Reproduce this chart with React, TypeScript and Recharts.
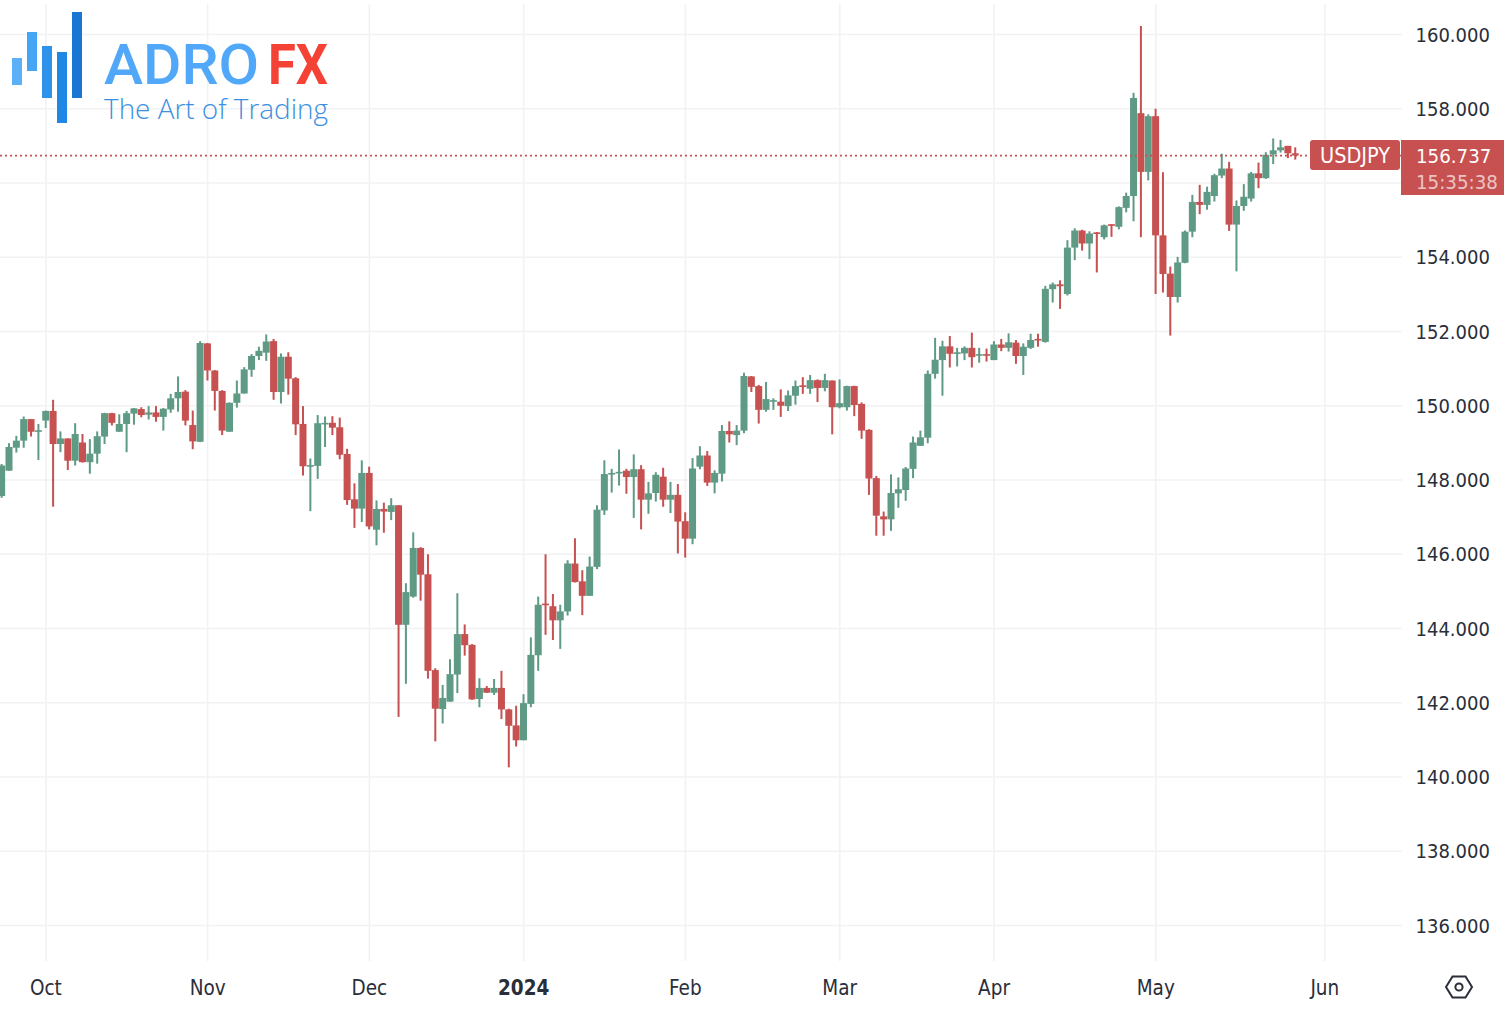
import { Bar, CartesianGrid, ComposedChart, ReferenceLine, XAxis, YAxis } from "recharts";

const FONT = "'DejaVu Sans', sans-serif";
const GREEN = "#5f9a85";
const RED = "#c75050";
const GRID = "#f2f2f4";
const TEXT = "#2a2e39";

// daily USDJPY candles
const opens = [
  147.57, 148.25, 148.87, 149.06, 149.64, 149.32, 149.6, 149.86, 148.97, 149.12,
  148.52, 149.01, 148.48, 148.71, 149.17, 149.8, 149.3, 149.51, 149.79, 149.91,
  149.76, 149.82, 149.7, 149.9, 150.2, 150.38, 149.48, 149.03, 151.68, 150.95,
  150.4, 149.3, 150.08, 150.33, 150.97, 151.34, 151.43, 151.74, 150.37, 151.32,
  150.74, 149.51, 148.38, 148.38, 149.53, 149.54, 149.42, 148.7, 147.48, 147.23,
  148.19, 146.66, 147.22, 147.14, 147.32, 144.1, 144.86, 146.17, 145.46, 142.88,
  141.83, 142.03, 142.76, 143.85, 143.56, 142.1, 142.4, 142.27, 142.4, 141.82,
  141.39, 140.99, 141.97, 143.28, 144.67, 144.6, 144.22, 144.46, 145.75, 145.27,
  144.88, 145.66, 147.18, 148.16, 148.19, 148.25, 148.08, 148.29, 147.47, 147.65,
  148.09, 147.47, 147.6, 146.89, 146.42, 148.36, 148.66, 147.93, 148.17, 149.32,
  149.21, 149.33, 150.79, 150.53, 149.89, 150.12, 150.11, 149.99, 150.27, 150.55,
  150.46, 150.69, 150.48, 150.68, 149.96, 149.96, 150.53, 150.05, 149.35, 148.05,
  147.02, 146.94, 147.64, 147.73, 148.3, 148.92, 149.14, 150.86, 151.23, 151.6,
  151.41, 151.41, 151.56, 151.36, 151.39, 151.23, 151.65, 151.56, 151.7, 151.34,
  151.56, 151.8, 151.72, 153.14, 153.27, 153.01, 154.26, 154.72, 154.37, 154.67,
  154.54, 154.89, 154.82, 155.33, 155.65, 157.88, 156.3, 157.8, 154.59, 153.56,
  152.93, 153.85, 154.69, 155.49, 155.41, 155.65, 156.2, 156.39, 154.88, 155.38,
  155.58, 156.26, 156.13, 156.77, 156.88, 157.0, 156.8,
];

const highs = [
  148.43, 148.99, 149.19, 149.71, 149.64, 149.51, 149.87, 150.16, 149.31, 149.12,
  149.53, 149.24, 149.1, 149.31, 149.81, 149.81, 149.77, 149.86, 149.94, 149.96,
  149.99, 149.99, 149.94, 150.32, 150.79, 150.42, 149.87, 151.74, 151.69, 150.96,
  150.42, 150.09, 150.68, 151.04, 151.39, 151.59, 151.92, 151.8, 151.41, 151.44,
  150.77, 149.99, 148.58, 149.75, 149.71, 149.72, 149.68, 148.84, 147.91, 148.53,
  148.36, 147.45, 147.39, 147.51, 147.32, 145.22, 146.59, 146.19, 146.0, 142.93,
  142.48, 143.17, 144.95, 144.11, 143.58, 142.66, 142.45, 142.64, 142.86, 141.84,
  141.92, 142.23, 143.76, 144.86, 146.0, 144.93, 144.64, 145.84, 146.43, 145.57,
  145.94, 147.32, 148.53, 148.3, 148.82, 148.3, 148.69, 148.4, 147.95, 148.21,
  148.33, 147.95, 147.89, 147.13, 148.59, 148.91, 148.78, 148.26, 149.48, 149.58,
  149.48, 150.89, 150.8, 150.56, 150.64, 150.2, 150.44, 150.41, 150.68, 150.77,
  150.83, 150.71, 150.86, 150.68, 150.71, 150.54, 150.54, 150.09, 149.37, 148.11,
  147.15, 148.15, 148.07, 148.35, 149.17, 149.33, 150.95, 151.83, 151.75, 151.88,
  151.56, 151.6, 151.97, 151.56, 151.54, 151.74, 151.8, 151.95, 151.77, 151.68,
  151.94, 151.94, 153.23, 153.32, 153.38, 154.46, 154.78, 154.74, 154.7, 154.68,
  154.88, 154.89, 155.37, 155.74, 158.43, 160.23, 157.85, 158.0, 156.29, 153.75,
  154.01, 154.72, 155.68, 155.95, 155.9, 156.25, 156.79, 156.57, 155.53, 155.97,
  156.3, 156.55, 156.83, 157.2, 157.16, 157.0, 156.96,
];

const lows = [
  147.52, 148.25, 148.74, 148.87, 149.17, 148.54, 149.4, 147.28, 148.75, 148.27,
  148.39, 148.47, 148.17, 148.44, 148.97, 149.47, 149.3, 148.75, 149.49, 149.69,
  149.63, 149.57, 149.33, 149.81, 149.84, 149.47, 148.83, 149.02, 150.68, 149.87,
  149.21, 149.3, 149.95, 150.33, 150.78, 151.23, 151.21, 150.16, 150.06, 150.3,
  149.21, 148.12, 147.16, 148.03, 148.89, 149.21, 148.56, 147.33, 146.71, 146.87,
  146.67, 146.24, 146.58, 146.92, 141.62, 142.51, 144.83, 144.75, 142.65, 140.96,
  141.44, 142.03, 142.26, 143.27, 142.08, 141.88, 142.27, 142.21, 141.56, 140.26,
  140.82, 140.99, 141.88, 142.86, 143.83, 143.69, 143.45, 144.35, 145.24, 144.36,
  144.88, 145.6, 147.06, 147.66, 147.85, 147.63, 146.98, 146.67, 147.09, 147.42,
  147.28, 147.11, 146.02, 145.91, 146.27, 148.29, 147.84, 147.64, 147.96, 149.01,
  148.94, 149.26, 150.37, 149.52, 149.84, 149.89, 149.7, 149.86, 150.03, 150.32,
  150.32, 150.1, 150.39, 149.23, 149.93, 149.87, 149.72, 149.11, 147.6, 146.5,
  146.5, 146.63, 147.25, 147.44, 148.05, 148.92, 148.99, 150.73, 150.27, 151.03,
  151.06, 151.23, 151.03, 151.16, 151.19, 151.23, 151.47, 151.46, 151.13, 150.83,
  151.53, 151.59, 151.7, 152.78, 152.61, 152.97, 153.92, 154.18, 153.95, 153.59,
  154.48, 154.55, 154.75, 155.21, 154.97, 154.54, 156.07, 153.01, 153.05, 151.89,
  152.78, 153.84, 154.54, 155.16, 155.28, 155.5, 156.13, 154.71, 153.62, 155.25,
  155.5, 155.86, 156.11, 156.51, 156.82, 156.67, 156.63,
];

const closes = [
  148.39, 148.89, 149.06, 149.64, 149.3, 149.34, 149.86, 148.97, 149.12, 148.52,
  149.24, 148.48, 148.71, 149.18, 149.8, 149.54, 149.51, 149.8, 149.93, 149.75,
  149.82, 149.7, 149.92, 150.2, 150.37, 149.6, 149.04, 151.69, 150.95, 150.4,
  149.33, 150.08, 150.33, 150.98, 151.34, 151.48, 151.73, 150.37, 151.32, 150.73,
  149.5, 148.37, 148.4, 149.53, 149.54, 149.41, 148.68, 147.46, 147.23, 148.19,
  146.75, 147.22, 147.15, 147.32, 144.1, 144.98, 146.17, 145.45, 142.86, 141.84,
  142.13, 142.77, 143.85, 143.55, 142.09, 142.4, 142.27, 142.4, 141.82, 141.38,
  140.99, 141.99, 143.29, 144.64, 144.64, 144.22, 144.46, 145.75, 145.25, 144.88,
  145.67, 147.2, 148.16, 148.19, 148.22, 148.08, 148.29, 147.47, 147.64, 148.14,
  147.47, 147.6, 146.88, 146.42, 148.31, 148.66, 147.93, 148.19, 149.32, 149.23,
  149.33, 150.8, 150.51, 149.89, 150.18, 150.15, 150.0, 150.28, 150.53, 150.51,
  150.69, 150.48, 150.69, 149.96, 150.07, 150.53, 150.02, 149.33, 148.04, 147.04,
  146.94, 147.65, 147.75, 148.31, 149.01, 149.15, 150.86, 151.24, 151.6, 151.4,
  151.44, 151.56, 151.31, 151.39, 151.36, 151.65, 151.56, 151.71, 151.34, 151.59,
  151.77, 151.76, 153.15, 153.27, 153.22, 154.26, 154.72, 154.37, 154.64, 154.64,
  154.86, 154.86, 155.35, 155.65, 158.29, 156.3, 157.8, 154.59, 153.55, 152.93,
  153.86, 154.69, 155.49, 155.41, 155.76, 156.21, 156.39, 154.88, 155.38, 155.63,
  156.26, 156.13, 156.76, 156.88, 156.96, 156.8, 156.74,
];

const priceTicks = [136, 138, 140, 142, 144, 146, 148, 150, 152, 154, 156, 158, 160];
const monthTicks = [6, 28, 50, 71, 93, 114, 135, 157, 180];
const monthLabels = ["Oct", "Nov", "Dec", "2024", "Feb", "Mar", "Apr", "May", "Jun"];
const lastPrice = 156.737;
const hiddenTick = 156; // sits behind the last price tag
const SLOTS = 191;

const data = Array.from({ length: SLOTS }, (_, day) =>
  day < opens.length
    ? { day, open: opens[day], close: closes[day], low: lows[day], high: highs[day], range: [lows[day], highs[day]] }
    : { day, range: null }
);

const Candle = (props: any) => {
  const { x, y, width, height, payload } = props;
  if (!payload || payload.range == null) return null;
  const perUnit = height / (payload.high - payload.low);
  const top = y + (payload.high - Math.max(payload.open, payload.close)) * perUnit;
  const bottom = y + (payload.high - Math.min(payload.open, payload.close)) * perUnit;
  const color = payload.close >= payload.open ? GREEN : RED;
  const cx = x + width / 2;
  return (
    <g>
      <rect x={cx - 1} y={y} width={2} height={height} fill={color} />
      <rect x={cx - 3.5} y={top} width={7} height={Math.max(bottom - top, 1.6)} fill={color} />
    </g>
  );
};

const MonthTick = (props: any) => {
  const { x, payload } = props;
  const label = monthLabels[monthTicks.indexOf(payload.value)];
  return (
    <text
      x={x}
      y={995}
      textAnchor="middle"
      fontFamily={FONT}
      fontSize={20.5}
      fontStretch="condensed"
      fontWeight={label === "2024" ? 700 : 400}
      fill={TEXT}
    >
      {label}
    </text>
  );
};

const PriceTick = (props: any) => {
  const { x, y, payload } = props;
  if (payload.value === hiddenTick) return null;
  return (
    <text x={x - 6.5} y={y + 7.2} fontFamily={FONT} fontSize={20} fontStretch="condensed" fill={TEXT}>
      {payload.value.toFixed(3)}
    </text>
  );
};

const Logo = () => (
  <svg width={340} height={130} style={{ position: "absolute", left: 0, top: 0 }}>
    <rect x={12} y={58} width={10} height={27} fill="#5cb0f7" />
    <rect x={27} y={32} width={10} height={39} fill="#45a6f5" />
    <rect x={42} y={46} width={10} height={52} fill="#2f92ea" />
    <rect x={57} y={52} width={10} height={71} fill="#1f88e5" />
    <rect x={72} y={12} width={10} height={86} fill="#1976d2" />
    <text x={104} y={84} fontFamily="Roboto, sans-serif" fontSize={56} fontWeight={500} fill="#52a8f8" textLength={155} lengthAdjust="spacingAndGlyphs">
      ADRO
    </text>
    <text x={268} y={84} fontFamily="Roboto, sans-serif" fontSize={56} fontWeight={700} fill="#f44336" textLength={60} lengthAdjust="spacingAndGlyphs">
      FX
    </text>
    <text x={104} y={119} fontFamily="'Open Sans', sans-serif" fontSize={28} fontWeight={300} fill="#3d8fe0" textLength={224} lengthAdjust="spacingAndGlyphs">
      The Art of Trading
    </text>
  </svg>
);

const PriceTag = () => (
  <>
    <div
      style={{
        position: "absolute",
        left: 1310,
        top: 140,
        width: 90,
        height: 30,
        background: RED,
        borderRadius: 3,
        color: "#fff",
        font: `21.5px ${FONT}`,
        fontStretch: "condensed",
        lineHeight: "32px",
        textAlign: "center",
      }}
    >
      USDJPY
    </div>
    <div
      style={{
        position: "absolute",
        left: 1401,
        top: 140,
        width: 103,
        height: 55,
        background: RED,
        font: `20.3px ${FONT}`,
        fontStretch: "condensed",
        paddingLeft: 15,
        boxSizing: "border-box",
      }}
    >
      <div style={{ color: "#fff", lineHeight: "33px" }}>156.737</div>
      <div style={{ color: "rgba(255,255,255,0.68)", lineHeight: "19px" }}>15:35:38</div>
    </div>
  </>
);

const Gear = () => (
  <svg width={30} height={26} style={{ position: "absolute", left: 1444, top: 974 }}>
    <polygon points="2,13 8.5,2.5 21.5,2.5 28,13 21.5,23.5 8.5,23.5" fill="none" stroke={TEXT} strokeWidth={2} />
    <circle cx={15} cy={13} r={3.6} fill="none" stroke={TEXT} strokeWidth={2} />
  </svg>
);

export default function App() {
  return (
    <div style={{ position: "absolute", left: 0, top: 0, width: 1508, height: 1010, background: "#fff", overflow: "hidden" }}>
      <ComposedChart
        width={1504}
        height={1010}
        data={data}
        barCategoryGap={0}
        margin={{ top: 4, right: 0, bottom: 0, left: -1.85 }}
      >
        <CartesianGrid stroke={GRID} strokeWidth={1.6} syncWithTicks />
        <XAxis
          dataKey="day"
          type="category"
          ticks={monthTicks}
          interval={0}
          height={49}
          axisLine={false}
          tickLine={false}
          tick={MonthTick}
        />
        <YAxis
          orientation="right"
          domain={[135.044, 160.8215]}
          ticks={priceTicks}
          interval={0}
          width={102}
          allowDataOverflow
          axisLine={false}
          tickLine={false}
          tickMargin={14}
          tick={PriceTick}
        />
        <ReferenceLine y={lastPrice} stroke={RED} strokeWidth={1.6} strokeDasharray="2 3" />
        <Bar dataKey="range" shape={Candle} isAnimationActive={false} />
      </ComposedChart>
      <Logo />
      <PriceTag />
      <Gear />
    </div>
  );
}
